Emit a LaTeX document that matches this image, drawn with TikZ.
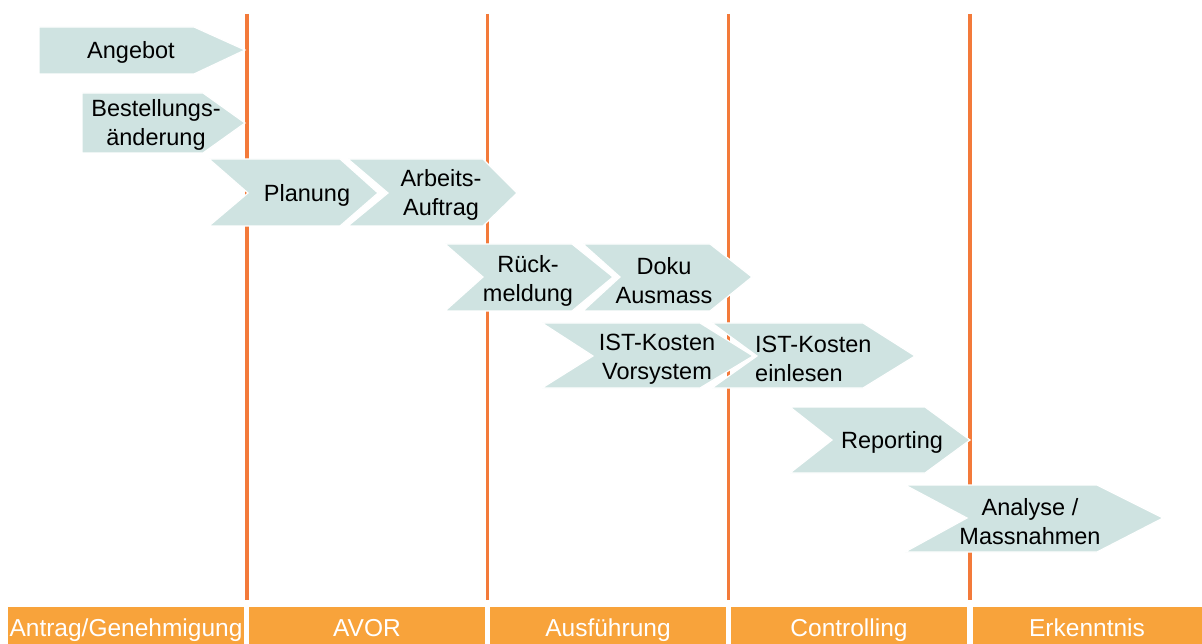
\documentclass[tikz,border=0pt]{standalone}
\usepackage{fontspec}
\setmainfont{Liberation Sans}
\definecolor{chev}{HTML}{CFE3E1}
\definecolor{vline}{HTML}{F37A3A}
\definecolor{barcol}{HTML}{F8A33B}
\begin{document}
\begin{tikzpicture}[x=1pt,y=-1pt,
  chevron/.style={fill=chev,draw=white,line width=1.2pt,line join=miter},
  phaseline/.style={draw=vline,line width=3.2pt},
  bar/.style={fill=barcol,draw=none},
  ctext/.style={font=\fontsize{23.5}{29}\selectfont,align=center,inner sep=0pt,text=black},
  btext/.style={font=\fontsize{24.5}{29}\selectfont,text=white,anchor=base,inner sep=0pt}]
\useasboundingbox (0,0) rectangle (1202,644);
\fill[white] (0,0) rectangle (1202,644);
% phase lines
\foreach \x/\n in {247/l1,487.5/l2,728.5/l3,970/l4}{
  \coordinate (\n t) at (\x,14);
  \coordinate (\n b) at (\x,600);
  \draw[phaseline] (\n t) -- (\n b);
}
% bars
\fill[bar] (8,607) rectangle (244,644);
\fill[bar] (249,607) rectangle (485,644);
\fill[bar] (490,607) rectangle (726,644);
\fill[bar] (731,607) rectangle (967,644);
\fill[bar] (973,607) rectangle (1202,644);
\node[btext] (b1) at (126,636) {Antrag/Genehmigung};
\node[btext] (b2) at (367,636) {AVOR};
\node[btext] (b3) at (608,636) {Ausführung};
\node[btext] (b4) at (849,636) {Controlling};
\node[btext] (b5) at (1087,636) {Erkenntnis};
% chevrons
\path[chevron] (39,27) -- (194,27) -- (245,50) -- (194,74) -- (39,74) -- cycle;
\path[chevron] (82,93) -- (203,93) -- (245,123) -- (203,153) -- (82,153) -- cycle;
\path[chevron] (209,159) -- (340,159) -- (378,193) -- (340,226) -- (209,226) -- (248,193) -- cycle;
\path[chevron] (348,159) -- (483,159) -- (517,193) -- (483,226) -- (348,226) -- (388,193) -- cycle;
\path[chevron] (445,244) -- (572,244) -- (613,277) -- (572,311) -- (445,311) -- (483,277) -- cycle;
\path[chevron] (583,244) -- (710,244) -- (752,277) -- (710,311) -- (583,311) -- (620,277) -- cycle;
\path[chevron] (542,323) -- (700,323) -- (753,356) -- (700,388) -- (542,388) -- (593,356) -- cycle;
\path[chevron] (712,323) -- (863,323) -- (915,356) -- (863,388) -- (712,388) -- (757,356) -- cycle;
\path[chevron] (790,407) -- (925,407) -- (970,440) -- (925,473) -- (790,473) -- (832,440) -- cycle;
\path[chevron] (905,485) -- (1097,485) -- (1163,518) -- (1097,552) -- (905,552) -- (967,518) -- cycle;
% texts
\node[ctext] (angebot) at (131,52) {Angebot};
\node[ctext] (bestell) at (156,125) {Bestellungs-\\änderung};
\node[ctext] (planung) at (307,195) {Planung};
\node[ctext] (arbeits) at (441,195) {Arbeits-\\Auftrag};
\node[ctext] (rueck) at (528,281) {Rück-\\meldung};
\node[ctext] (doku) at (664,281) {Doku\\Ausmass};
\node[ctext] (istv) at (657,359) {IST-Kosten\\Vorsystem};
\node[ctext,align=left,anchor=west] (iste) at (755,359) {IST-Kosten\\einlesen};
\node[ctext] (report) at (892,442) {Reporting};
\node[ctext] (analyse) at (1030,522) {Analyse /\\Massnahmen};
\end{tikzpicture}
\end{document}
